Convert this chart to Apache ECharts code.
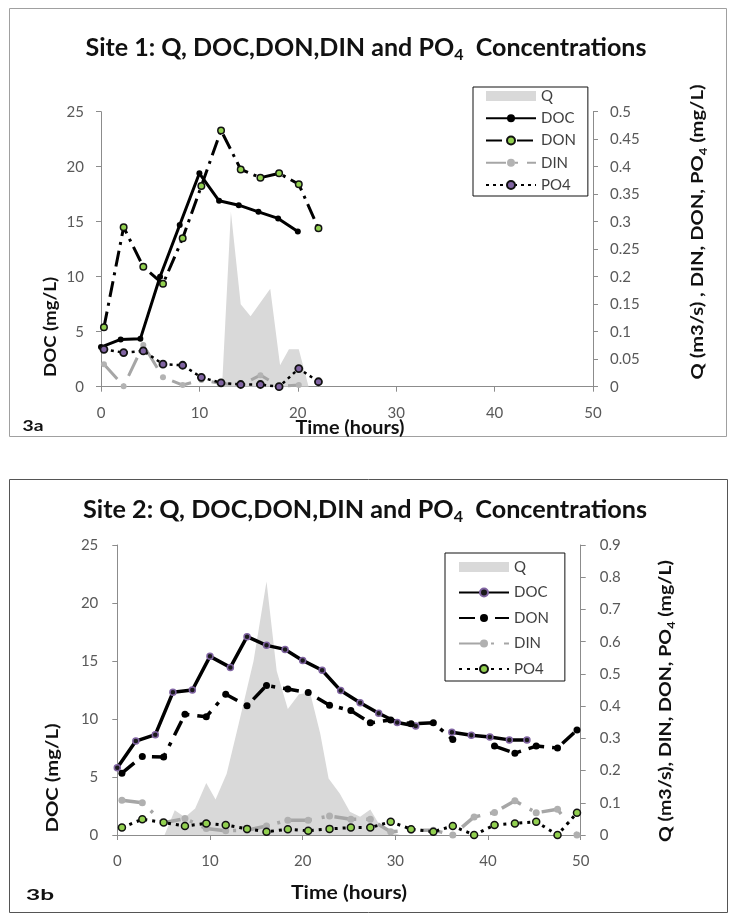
<!DOCTYPE html>
<html>
<head>
<meta charset="utf-8">
<script src="https://cdn.jsdelivr.net/npm/echarts@6.0.0/dist/echarts.min.js"></script>
<style>
  html, body { margin: 0; padding: 0; background: #fff; }
  #site1 { position: absolute; left: 0; top: 0; width: 730px; height: 460px; }
  #site2 { position: absolute; left: 0; top: 460px; width: 730px; height: 454px; }
</style>
</head>
<body>
<div id="site1"></div>
<div id="site2"></div>
<script>
// ---------- Site 1 (panel 3a) ----------
const site1DocHours = [0, 2, 4, 6, 8, 10, 12, 14, 16, 18, 20];
const site1DOC = [3.6, 4.3, 4.35, 10.0, 14.7, 19.4, 16.9, 16.5, 15.9, 15.3, 14.1];           // mg/L, left axis
const site1NutHours = [0.3, 2.3, 4.3, 6.3, 8.3, 10.2, 12.2, 14.2, 16.2, 18.1, 20.1, 22.1];
const site1DON = [0.108, 0.290, 0.218, 0.187, 0.270, 0.365, 0.466, 0.395, 0.380, 0.388, 0.368, 0.288];
const site1DIN = [0.041, 0.001, 0.076, 0.017, 0.003, 0.012, 0.006, 0.003, 0.021, 0.001, 0.003, null];
const site1PO4 = [0.068, 0.062, 0.065, 0.041, 0.039, 0.017, 0.007, 0.004, 0.004, 0.000, 0.033, 0.009];
const site1QHours = [12.3, 13.2, 14.2, 15.2, 17.2, 18.2, 19.1, 20.1, 21.1];
const site1Q = [0, 0.318, 0.150, 0.128, 0.178, 0.039, 0.068, 0.068, 0];                     // m3/s
const site1LeftTicks = { min: 0, max: 25, interval: 5 };
const site1RightTicks = { min: 0, max: 0.5, interval: 0.05 };

// ---------- Site 2 (panel 3b) ----------
const site2DocHours = [0, 2, 4.1, 6, 8.1, 10, 12.2, 14, 16.1, 18.1, 20, 22.1, 24.1, 26.2, 28.2, 30.2, 32.2, 34.2, 36.1, 38.2, 40.2, 42.3, 44.2];
const site2DOC = [5.8, 8.1, 8.65, 12.3, 12.5, 15.4, 14.45, 17.1, 16.35, 16.0, 15.05, 14.2, 12.45, 11.4, 10.5, 9.7, 9.4, null, 8.85, 8.6, 8.45, 8.2, 8.2];
const site2NutHours = [0.5, 2.7, 5.0, 7.3, 9.6, 11.7, 14.0, 16.1, 18.4, 20.6, 22.9, 25.2, 27.3, 29.5, 31.7, 34.1, 36.2, 38.5, 40.7, 42.9, 45.2, 47.5, 49.6];
const site2DON = [0.192, 0.244, 0.242, 0.375, 0.367, 0.437, 0.401, 0.464, 0.453, 0.442, 0.403, 0.386, 0.348, 0.357, 0.345, 0.348, 0.296, null, 0.276, 0.254, 0.276, 0.270, 0.326];
const site2DIN = [0.108, 0.100, 0.038, 0.051, 0.020, 0.013, 0.015, 0.028, 0.046, 0.046, 0.059, 0.049, 0.049, 0.010, 0.015, 0.015, 0.000, 0.056, 0.070, 0.106, 0.069, 0.080, 0.000];
const site2PO4 = [0.023, 0.049, 0.039, 0.028, 0.036, 0.031, 0.019, 0.010, 0.018, 0.013, 0.019, 0.023, 0.023, 0.041, 0.018, 0.010, 0.028, 0.000, 0.031, 0.036, 0.041, 0.000, 0.069];
const site2QHours = [5.1, 6.2, 7.3, 8.4, 9.6, 10.6, 11.8, 13.1, 14.7, 16.1, 17.2, 18.4, 19.6, 20.8, 21.9, 22.8, 24.0, 25.1, 26.2, 27.3, 28.2, 29.4, 30.5];
const site2Q = [0, 0.077, 0.055, 0.082, 0.161, 0.110, 0.190, 0.345, 0.540, 0.787, 0.509, 0.391, 0.437, 0.442, 0.314, 0.175, 0.129, 0.072, 0.057, 0.079, 0.036, 0.010, 0];
const site2LeftTicks = { min: 0, max: 25, interval: 5 };
const site2RightTicks = { min: 0, max: 0.9, interval: 0.1 };

const timeTicks = { min: 0, max: 50, interval: 10 };
const legendNames = ['Q', 'DOC', 'DON', 'DIN', 'PO4'];

// ---------- helpers ----------
const FONT = 'Lato, "Open Sans", sans-serif';
const AXIS_GREY = '#8c8c8c';
const LABEL_GREY = '#595959';
const Q_FILL = '#d9d9d9';
const GREEN = '#92d050';
const PURPLE = '#8064a2';

function pairs(xs, ys) {
  return xs.map((x, i) => [x, ys[i] == null ? '-' : ys[i]]);
}

const measureCtx = document.createElement('canvas').getContext('2d');
function textWidth(text, weight, size) {
  measureCtx.font = `${weight} ${size}px ${FONT}`;
  return measureCtx.measureText(text).width;
}

// Bold text block, optionally with a subscript "4", squeezed to a target length.
function boldText(x, y, main, size, targetLen, rotation, withSub, subTail) {
  const subSize = Math.round(size * 0.62);
  let text = main, w = textWidth(main, 'bold', size);
  if (withSub) {
    text = main + '{sub|4}' + subTail;
    w += textWidth('4', 'bold', subSize) + textWidth(subTail, 'bold', size);
  }
  return {
    type: 'text', x, y, rotation: rotation || 0,
    scaleX: targetLen ? targetLen / w : 1,
    z: 10,
    style: {
      text,
      fontFamily: FONT, fontWeight: 'bold', fontSize: size, lineHeight: size + 4,
      fill: '#111', align: 'center', verticalAlign: 'middle',
      rich: {
        sub: {
          fontFamily: FONT, fontWeight: 'bold', fontSize: subSize,
          lineHeight: subSize, verticalAlign: 'bottom', fill: '#111'
        }
      }
    }
  };
}

function valueAxisBase(ticks, extra) {
  return Object.assign({
    type: 'value', min: ticks.min, max: ticks.max, interval: ticks.interval,
    splitLine: { show: false },
    axisLine: { show: true, onZero: false, lineStyle: { color: AXIS_GREY, width: 1 } },
    axisTick: { show: true, length: 5, lineStyle: { color: AXIS_GREY } },
    axisLabel: { color: LABEL_GREY, fontFamily: FONT, fontSize: 15 }
  }, extra);
}

function buildOption(cfg) {
  const s = cfg.styles;
  return {
    animation: false,
    backgroundColor: '#fff',
    grid: { left: cfg.grid.left, right: cfg.grid.right, top: cfg.grid.top, height: cfg.grid.height },
    xAxis: valueAxisBase(timeTicks, {
      axisLabel: { color: LABEL_GREY, fontFamily: FONT, fontSize: 15, margin: 19 }
    }),
    yAxis: [
      valueAxisBase(cfg.leftTicks, {
        position: 'left',
        axisLabel: { color: LABEL_GREY, fontFamily: FONT, fontSize: 15, margin: cfg.leftMargin }
      }),
      valueAxisBase(cfg.rightTicks, {
        position: 'right',
        axisLabel: { color: LABEL_GREY, fontFamily: FONT, fontSize: 15, margin: cfg.rightMargin }
      })
    ],
    legend: {
      orient: 'vertical', left: cfg.legend.left, top: cfg.legend.top,
      itemWidth: 50, itemHeight: 10, itemGap: cfg.legend.gap,
      padding: cfg.legend.padding,
      borderColor: '#111', borderWidth: 1, backgroundColor: '#fff',
      selectedMode: false,
      textStyle: { fontFamily: FONT, fontSize: 15, color: '#404040', lineHeight: 16 },
      data: legendNames.map(n => n === 'Q' ? { name: 'Q', icon: 'rect' } : n)
    },
    series: [
      {
        name: 'Q', type: 'line', yAxisIndex: 1, data: pairs(cfg.qHours, cfg.q),
        symbol: 'none', lineStyle: { width: 0, color: Q_FILL },
        itemStyle: { color: Q_FILL }, areaStyle: { color: Q_FILL, opacity: 1 }, z: 1
      },
      {
        name: 'DOC', type: 'line', yAxisIndex: 0, data: pairs(cfg.docHours, cfg.doc),
        symbol: 'circle', symbolSize: s.doc.size, showAllSymbol: true,
        lineStyle: { color: '#000', width: s.doc.width },
        itemStyle: s.doc.item, z: 3
      },
      {
        name: 'DON', type: 'line', yAxisIndex: 1, data: pairs(cfg.nutHours, cfg.don),
        symbol: 'circle', symbolSize: s.don.size, showAllSymbol: true,
        lineStyle: { color: '#000', width: s.don.width, type: s.don.dash },
        itemStyle: s.don.item, z: 3
      },
      {
        name: 'DIN', type: 'line', yAxisIndex: 1, data: pairs(cfg.nutHours, cfg.din),
        symbol: 'circle', symbolSize: s.din.size, showAllSymbol: true,
        lineStyle: { color: '#a6a6a6', width: s.din.width, type: s.din.dash },
        itemStyle: s.din.item, z: 3
      },
      {
        name: 'PO4', type: 'line', yAxisIndex: 1, data: pairs(cfg.nutHours, cfg.po4),
        symbol: 'circle', symbolSize: s.po4.size, showAllSymbol: true,
        lineStyle: { color: '#000', width: s.po4.width, type: s.po4.dash },
        itemStyle: s.po4.item, z: 3
      }
    ],
    graphic: cfg.graphic
  };
}

// ---------- Site 1 chart ----------
const chart1 = echarts.init(document.getElementById('site1'), null, { renderer: 'canvas' });
chart1.setOption(buildOption({
  grid: { left: 101, right: 137, top: 111.7, height: 275 },
  leftTicks: site1LeftTicks, rightTicks: site1RightTicks,
  leftMargin: 17, rightMargin: 17,
  docHours: site1DocHours, doc: site1DOC,
  nutHours: site1NutHours, don: site1DON, din: site1DIN, po4: site1PO4,
  qHours: site1QHours, q: site1Q,
  legend: { left: 473, top: 87, gap: 6.25, padding: [1, 12, 3, 12] },
  styles: {
    doc: { size: 6, width: 3, item: { color: '#000' } },
    don: { size: 6.5, width: 3, dash: [16, 6, 3, 6], item: { color: GREEN, borderColor: '#111', borderWidth: 1.5 } },
    din: { size: 6, width: 3, dash: [20, 9, 3, 9], item: { color: '#b3b3b3' } },
    po4: { size: 7, width: 2.5, dash: [3, 4], item: { color: PURPLE, borderColor: '#111', borderWidth: 1.8 } }
  },
  graphic: [
    { type: 'rect', shape: { x: 9.5, y: 8.5, width: 717, height: 428 },
      style: { fill: 'none', stroke: '#a0a0a0', lineWidth: 1 }, z: 0, silent: true },
    boldText(366, 48, 'Site 1: Q, DOC,DON,DIN and PO', 25, 561, 0, true, '  Concentrations'),
    boldText(51, 327, 'DOC (mg/L)', 17, 100, Math.PI / 2),
    boldText(698, 232, 'Q (m3/s) , DIN, DON, PO', 17, 295, Math.PI / 2, true, ' (mg/L)'),
    boldText(350, 428, 'Time (hours)', 18, 109),
    boldText(33, 426, '3a', 16, 21)
  ]
}));

// ---------- Site 2 chart ----------
const chart2 = echarts.init(document.getElementById('site2'), null, { renderer: 'canvas' });
chart2.setOption(buildOption({
  grid: { left: 117.3, right: 149.3, top: 85, height: 290 },
  leftTicks: site2LeftTicks, rightTicks: site2RightTicks,
  leftMargin: 19, rightMargin: 19,
  docHours: site2DocHours, doc: site2DOC,
  nutHours: site2NutHours, don: site2DON, din: site2DIN, po4: site2PO4,
  qHours: site2QHours, q: site2Q,
  legend: { left: 445, top: 93, gap: 9.5, padding: [6, 16, 4, 13] },
  styles: {
    doc: { size: 6, width: 3.5, item: { color: '#1a1a1a', borderColor: PURPLE, borderWidth: 1.5 } },
    don: { size: 7, width: 3.5, dash: [16, 8, 4, 8], item: { color: '#000' } },
    din: { size: 7, width: 3.5, dash: [22, 10, 3, 10], item: { color: '#b0b0b0' } },
    po4: { size: 7, width: 3, dash: [3, 5], item: { color: GREEN, borderColor: '#111', borderWidth: 1.5 } }
  },
  graphic: [
    { type: 'rect', shape: { x: 9.5, y: 19.5, width: 718, height: 433 },
      style: { fill: 'none', stroke: '#555', lineWidth: 1 }, z: 0, silent: true },
    boldText(365, 50, 'Site 2: Q, DOC,DON,DIN and PO', 25, 564, 0, true, '  Concentrations'),
    boldText(53, 318, 'DOC (mg/L)', 17, 109, Math.PI / 2),
    boldText(666, 241, 'Q (m3/s), DIN, DON, PO', 17, 282, Math.PI / 2, true, ' (mg/L)'),
    boldText(349, 433, 'Time (hours)', 18, 116),
    boldText(40, 435, '3b', 16, 28)
  ]
}));
</script>
</body>
</html>
